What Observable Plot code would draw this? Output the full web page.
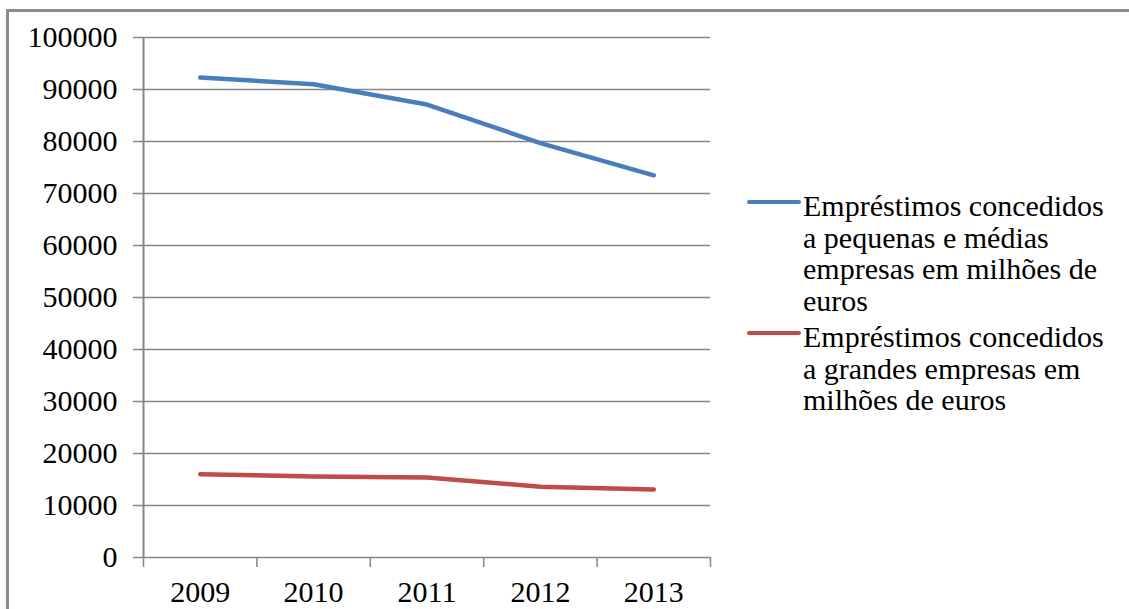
<!DOCTYPE html>
<html>
<head>
<meta charset="utf-8">
<script src="https://cdn.jsdelivr.net/npm/d3@7"></script>
<script src="https://cdn.jsdelivr.net/npm/@observablehq/plot@0.6"></script>
<style>
  html, body { margin: 0; padding: 0; background: #fff; }
  #chart { position: relative; width: 1129px; height: 609px; overflow: hidden; background: #fff; }
  #chart svg { position: absolute; left: 0; top: 0; }
  #chart svg, #chart svg text { font-family: 'Liberation Serif', serif !important; }
  #frame { position: absolute; left: 6px; top: 9px; width: 1200px; height: 700px;
           border-left: 3px solid #8c8c8c; border-top: 3px solid #8c8c8c; pointer-events: none; }
  #legend { position: absolute; left: 747px; top: 190px;
            font-family: 'Liberation Serif', serif !important;
            font-size: 30px; line-height: 31.5px; color: #000; }
  .item { display: flex; align-items: flex-start; margin-bottom: 5px; }
  .swatch { width: 54px; height: 4px; border-radius: 2px; margin-top: 10px; margin-right: 2px; flex: none; }
  .label { width: 312px; }
</style>
</head>
<body>
<div id="chart"></div>
<script>
// Loans granted by Portuguese banks, millions of euros
const years = [2009, 2010, 2011, 2012, 2013];
const smeLoans = [92300, 91000, 87100, 79700, 73500];
const largeLoans = [16000, 15600, 15400, 13600, 13100];
const seriesNames = [
  "Empréstimos concedidos a pequenas e médias empresas em milhões de euros",
  "Empréstimos concedidos a grandes empresas em milhões de euros"
];
const seriesColors = ["#4a7ebb", "#be4b48"];
const yTicks = d3.range(0, 100001, 10000);
// category boundaries on the x axis (tick marks sit between the years)
const yearEdges = [2008.5, 2009.5, 2010.5, 2011.5, 2012.5, 2013.5];

const rows = [
  ...years.map((year, i) => ({year, value: smeLoans[i], series: seriesNames[0]})),
  ...years.map((year, i) => ({year, value: largeLoans[i], series: seriesNames[1]}))
];

const grey = "#868686";
const serif = "'Liberation Serif', serif";

const chart = Plot.plot({
  width: 1129,
  height: 609,
  marginLeft: 143,
  marginRight: 419,
  marginTop: 37,
  marginBottom: 52,
  style: {fontFamily: serif, fontSize: "30px", color: "#000", background: "transparent"},
  x: {domain: [yearEdges[0], yearEdges[yearEdges.length - 1]]},
  y: {domain: [0, 100000]},
  color: {domain: seriesNames, range: seriesColors},
  marks: [
    Plot.gridY(yTicks, {stroke: grey, strokeOpacity: 1, strokeWidth: 1.5}),
    Plot.ruleX([yearEdges[0]], {stroke: grey, strokeWidth: 2}),
    Plot.axisY(yTicks, {tickSize: 10, tickPadding: 16, stroke: grey, strokeWidth: 1.5, tickFormat: d => String(d), label: null}),
    Plot.axisX(yearEdges, {tickSize: 10, stroke: grey, strokeWidth: 1.5, tickFormat: () => "", label: null}),
    Plot.axisX(years, {tickSize: 0, tickPadding: 23, tickFormat: d => String(d), label: null}),
    Plot.line(rows, {x: "year", y: "value", z: "series", stroke: "series", strokeWidth: 4.5,
                     strokeLinecap: "round", strokeLinejoin: "round"})
  ]
});

const root = document.getElementById("chart");
root.appendChild(chart);

// legend to the right of the plot
const legend = document.createElement("div");
legend.id = "legend";
legend.style.fontFamily = serif;
seriesNames.forEach((name, i) => {
  const item = document.createElement("div");
  item.className = "item";
  const sw = document.createElement("div");
  sw.className = "swatch";
  sw.style.background = seriesColors[i];
  const lab = document.createElement("div");
  lab.className = "label";
  lab.textContent = name;
  item.appendChild(sw);
  item.appendChild(lab);
  legend.appendChild(item);
});
root.appendChild(legend);

const frame = document.createElement("div");
frame.id = "frame";
root.appendChild(frame);
</script>
</body>
</html>
